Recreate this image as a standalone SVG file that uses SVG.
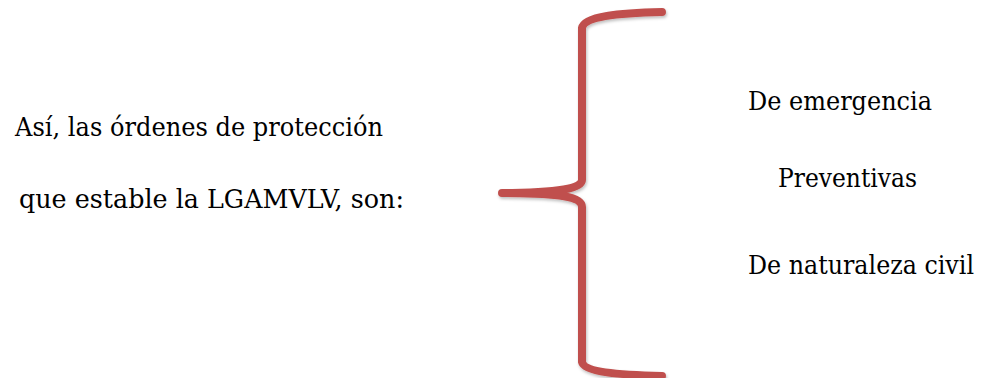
<svg xmlns="http://www.w3.org/2000/svg" width="981" height="378" viewBox="0 0 981 378">
  <style>
    .label { font-family: "DejaVu Serif", "Liberation Serif", serif; font-size: 26px; fill: #000; }
    .brace { fill: none; stroke: #C0504D; stroke-width: 8; stroke-linecap: round; stroke-linejoin: round; }
  </style>
  <defs>
    <filter id="soft-shadow" x="-10%" y="-10%" width="130%" height="130%">
      <feDropShadow dx="1" dy="2" stdDeviation="1.5" flood-color="#000" flood-opacity="0.25"/>
    </filter>
  </defs>
  <rect width="981" height="378" fill="#fff"/>

  <!-- statement on the left -->
  <g id="intro">
    <text class="label" x="15" y="136" textLength="368" lengthAdjust="spacingAndGlyphs">Así, las órdenes de protección</text>
    <text class="label" x="19" y="208" textLength="385" lengthAdjust="spacingAndGlyphs">que estable la LGAMVLV, son:</text>
  </g>

  <!-- curly brace grouping the three kinds -->
  <g id="connectors">
    <path class="brace" filter="url(#soft-shadow)"
          d="M662,12 C620,13 584,16 582,28 L582,180 C582,188 560,193 502,193 C560,193 582,197 582,207 L582,362 C584,372 620,375 662,376"/>
  </g>

  <!-- kinds of protection orders -->
  <g id="item-emergencia">
    <text class="label" x="748" y="110" textLength="184" lengthAdjust="spacingAndGlyphs">De emergencia</text>
  </g>
  <g id="item-preventivas">
    <text class="label" x="778" y="187" textLength="139" lengthAdjust="spacingAndGlyphs">Preventivas</text>
  </g>
  <g id="item-civil">
    <text class="label" x="748" y="274" textLength="226" lengthAdjust="spacingAndGlyphs">De naturaleza civil</text>
  </g>
</svg>
